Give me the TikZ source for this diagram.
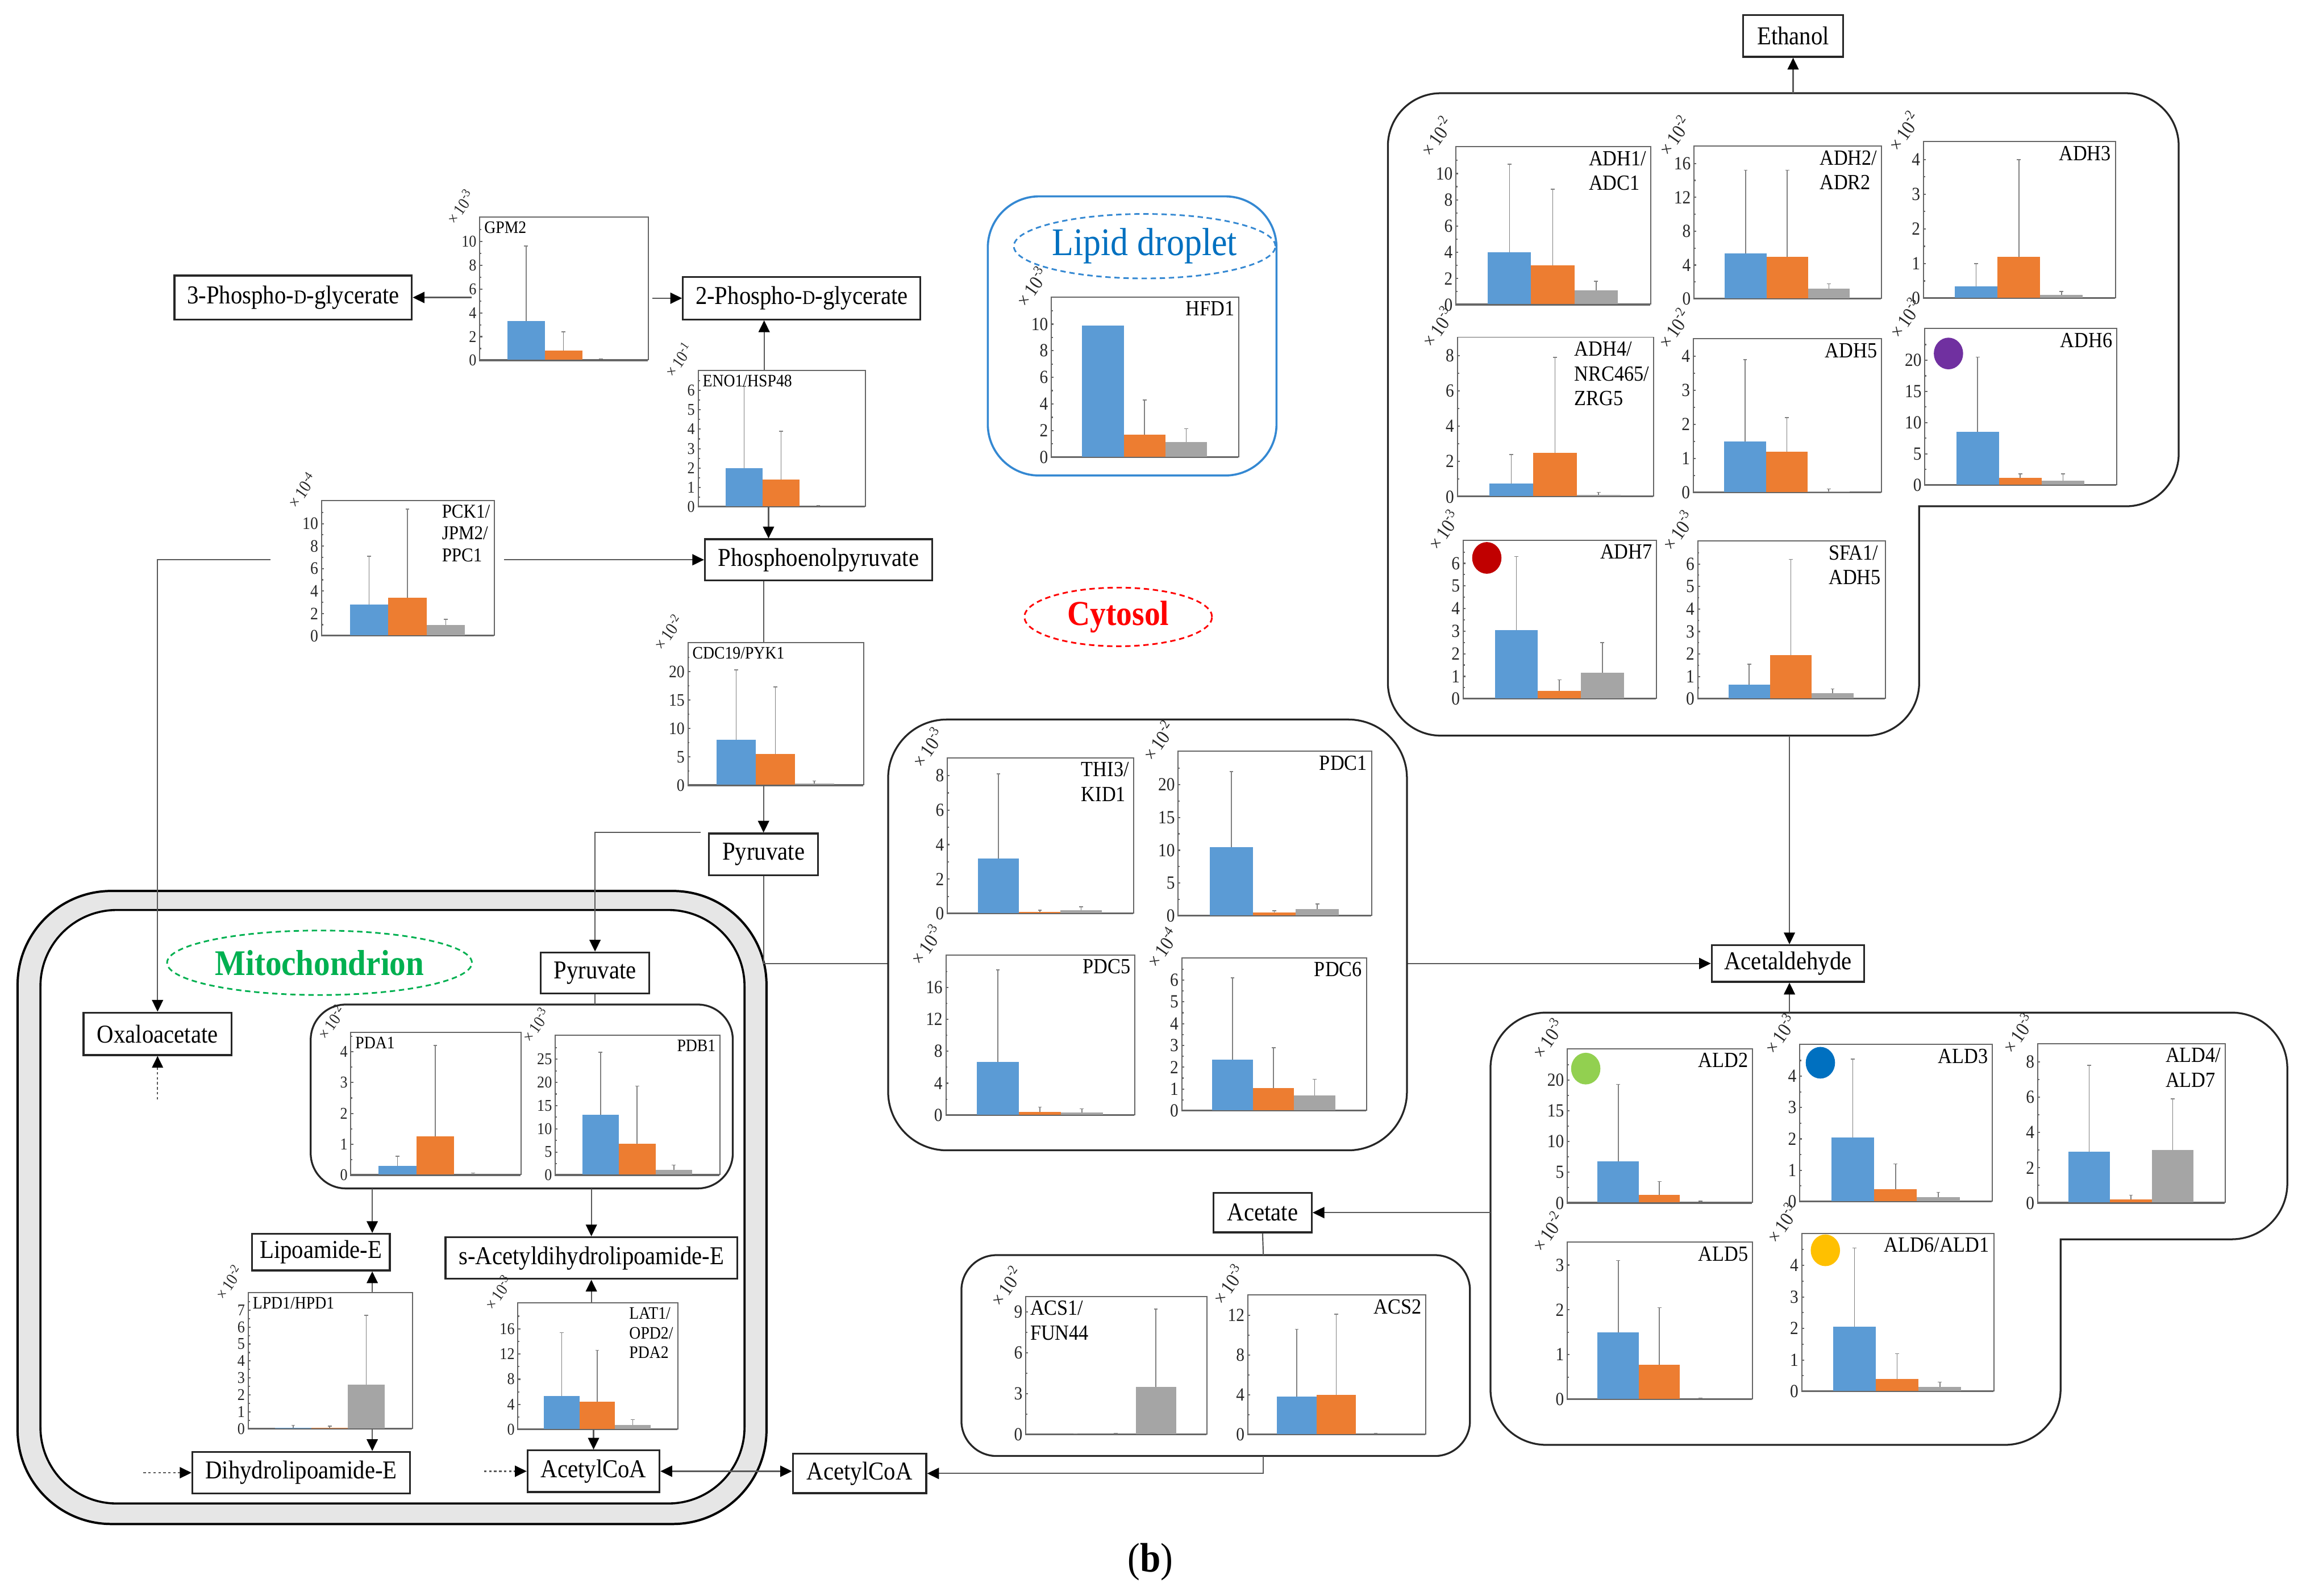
\documentclass[tikz,border=0pt]{standalone}
\usepackage{fontspec}
\setmainfont{Liberation Serif}[FakeStretch=0.9]
\usepackage{tikz}
\usetikzlibrary{arrows.meta,positioning,shapes.geometric}

\definecolor{barblue}{RGB}{91,155,213}
\definecolor{barorange}{RGB}{237,125,49}
\definecolor{bargray}{RGB}{165,165,165}
\definecolor{mitogreen}{RGB}{0,176,80}
\definecolor{mitoshell}{RGB}{230,230,230}
\definecolor{lipidline}{RGB}{52,136,210}
\definecolor{lipidtext}{RGB}{0,112,192}
\definecolor{cytored}{RGB}{255,0,0}
\definecolor{dotpurple}{RGB}{112,48,160}
\definecolor{dotred}{RGB}{192,0,0}
\definecolor{dotgreen}{RGB}{146,208,80}
\definecolor{dotblue}{RGB}{0,112,192}
\definecolor{dotyellow}{RGB}{255,192,0}

\tikzset{
  met/.style={draw=black!85, line width=0.9pt, fill=white, inner sep=0pt,
    font=\fontsize{12.5}{14}\selectfont},
  grp/.style={draw=black!85, line width=0.9pt},
  conn/.style={draw=black!65, line width=0.6pt},
  arr/.style={conn, -{Triangle[length=2mm,width=1.9mm,color=black]}},
  dblarr/.style={conn, {Triangle[length=2mm,width=1.9mm,color=black]}-{Triangle[length=2mm,width=1.9mm,color=black]}},
  dasharr/.style={arr, dash pattern=on 1.2pt off 1.2pt},
  plotbox/.style={draw=black!60, line width=0.55pt, fill=white, inner sep=0pt},
  axisln/.style={draw=black!60, line width=0.6pt},
  errbar/.style={draw=black!50, line width=0.45pt},
  ticklbl/.style={anchor=east, inner sep=0.4mm, text=black!85},
  genelbl/.style={align=left, inner sep=0.8mm},
  expo/.style={rotate=55, inner sep=0pt, text=black!85},
  tksm/.style={font=\fontsize{8}{8.5}\selectfont},
  tkmd/.style={font=\fontsize{8.5}{9}\selectfont},
  tklg/.style={font=\fontsize{9}{10}\selectfont},
  gnsm/.style={font=\fontsize{8.5}{9.5}\selectfont},
  gnmd/.style={font=\fontsize{9.5}{10.5}\selectfont},
  gnlg/.style={font=\fontsize{10.5}{12}\selectfont},
  exsm/.style={font=\fontsize{8}{9}\selectfont},
  exmd/.style={font=\fontsize{8.5}{9}\selectfont},
  exlg/.style={font=\fontsize{9.5}{10}\selectfont},
  tag/.style={ellipse, dash pattern=on 2.6pt off 1.8pt, line width=0.8pt, inner sep=0pt},
}

\newcommand{\smallcapD}{{\fontsize{9.5}{10}\selectfont D}}

% frame of one bar chart: name, left, bottom, width, height, axis top
\newcommand{\chart}[6]{%
  \node[plotbox, minimum width=#4*0.25mm, minimum height=#5*0.25mm,
    anchor=south west] (#1) at (#2,#3) {};
  \def\cname{#1}\def\cwd{#4}\def\cht{#5}\def\cmax{#6}}

% y axis: size class, exponent, tick step, last tick
\newcommand{\yaxis}[4][lg]{%
  \node[expo, ex#1] (\cname-x) at ([shift={(-13,-7)}]\cname.north west)
    {\texttimes\,10\textsuperscript{#2}};
  \foreach \tv in {0,#3,...,#4} {
    \node[ticklbl, tk#1] (\cname-t\tv) at ([yshift=\tv/\cmax*\cht*0.25mm]\cname.south west) {\tv};
    \draw[axisln] ([yshift=\tv/\cmax*\cht*0.25mm]\cname.south west) -- ++(2,0);
    \pgfmathsetmacro\mt{\tv+#3/2}
    \ifdim\mt pt<\cmax pt
      \draw[axisln] ([yshift=\mt/\cmax*\cht*0.25mm]\cname.south west) -- ++(1.5,0);
    \fi
  }}

% bars: blue, orange, grey means, then their error tops
\newcommand{\bars}[6]{%
  \begin{scope}[shift={(\cname.south west)}]
    \fill[barblue] ({\cwd/6},0) rectangle ++({\cwd*2/9},{-#1/\cmax*\cht});
    \fill[barorange] ({\cwd*7/18},0) rectangle ++({\cwd*2/9},{-#2/\cmax*\cht});
    \fill[bargray] ({\cwd*11/18},0) rectangle ++({\cwd*2/9},{-#3/\cmax*\cht});
    \foreach \mv/\ev/\cx in {#1/#4/5, #2/#5/9, #3/#6/13} {
      \ifdim\ev pt>\mv pt
        \draw[errbar] ({\cwd*\cx/18},{-\mv/\cmax*\cht}) -- ({\cwd*\cx/18},{-\ev/\cmax*\cht})
          ++(-1.3,0) -- ++(2.6,0);
      \fi
    }
    \draw[axisln] (0,0) -- (\cwd,0);
  \end{scope}}

% gene name in a corner of the chart
\newcommand{\gene}[3][lg]{%
  \node[genelbl, gn#1, anchor=#2] (\cname-g) at (\cname.#2) {#3};}

% coloured marker in the chart
\newcommand{\marker}[3]{%
  \fill[#1] ([shift={(#2,#3)}]\cname.north west) ellipse [x radius=2.5mm, y radius=2.7mm];}

\begin{document}
\begin{tikzpicture}[x=0.25mm, y=-0.25mm]
  \useasboundingbox (0,0) rectangle (1568,1088.76);

  % Mitochondrion shell
  \draw[line width=1.1pt, fill=mitoshell, rounded corners=16mm] (12,608) rectangle (523,1040);
  \draw[line width=1pt, fill=white, rounded corners=13mm] (27.6,621) rectangle (508,1026);

  % Metabolites
  \node[met, minimum width=40.5mm, minimum height=7.5mm] (pg3) at (200,203) {3-Phospho-\smallcapD-glycerate};
  \node[met, minimum width=40.5mm, minimum height=7.25mm] (pg2) at (547,203.5) {2-Phospho-\smallcapD-glycerate};
  \node[met, minimum width=38.75mm, minimum height=7mm] (pep) at (558.5,382) {Phosphoenolpyruvate};
  \node[met, minimum width=18.6mm, minimum height=7.1mm] (pyr) at (521,583) {Pyruvate};
  \node[met, minimum width=17mm, minimum height=7.1mm] (ethanol) at (1223.5,24.6) {Ethanol};
  \node[met, minimum width=26mm, minimum height=6.25mm] (acald) at (1220,657.5) {Acetaldehyde};
  \node[met, minimum width=16.75mm, minimum height=6.75mm] (acetate) at (861.5,827.5) {Acetate};
  \node[met, minimum width=22.75mm, minimum height=6.75mm] (accoa) at (586.5,1005.5) {AcetylCoA};
  \node[met, minimum width=18.5mm, minimum height=7mm] (pyrm) at (406,664) {Pyruvate};
  \node[met, minimum width=25.25mm, minimum height=7.25mm] (oaa) at (107.5,705.5) {Oxaloacetate};
  \node[met, minimum width=23.5mm, minimum height=6.25mm] (lipo) at (219,854.5) {Lipoamide-E};
  \node[met, minimum width=49.75mm, minimum height=7.1mm] (sacetyl) at (403.5,858.5) {s-Acetyldihydrolipoamide-E};
  \node[met, minimum width=37.1mm, minimum height=7.1mm] (dihydro) at (205.5,1005) {Dihydrolipoamide-E};
  \node[met, minimum width=22.5mm, minimum height=7.1mm] (accoam) at (405,1004) {AcetylCoA};

  % Compartment labels
  \node[tag, draw=cytored, text=cytored, minimum width=32mm, minimum height=10mm,
    font=\fontsize{17}{17}\selectfont\bfseries] (cytosol) at (763,421) {Cytosol};
  \node[tag, draw=mitogreen, text=mitogreen, minimum width=52mm, minimum height=11mm,
    font=\fontsize{17.5}{18}\selectfont\bfseries] (mito) at (218,657) {Mitochondrion};

  % Pyruvate to acetaldehyde, behind the PDC group
  \draw[arr] (pyr.south) |- (acald.west);

  % Enzyme groups
  \draw[lipidline, line width=1pt, fill=white, rounded corners=8.75mm] (674,134) rectangle (871,324.5);
  \node[tag, draw=lipidline, text=lipidtext, minimum width=40.5mm, minimum height=11mm,
    font=\fontsize{19}{19}\selectfont] (lipid) at (781,168) {Lipid droplet};
  \draw[grp, fill=white, rounded corners=10mm] (606,491) rectangle (960,785);
  \draw[grp, line cap=rect, rounded corners=9mm] (1309.5,345.5) -- (1486.6,345.5) -- (1486.6,63.6)
    -- (947,63.6) -- (947,502) -- (1309.5,502) -- (1309.5,345.5);
  \draw[grp, line cap=rect, rounded corners=9.5mm] (1406,845.7) -- (1560.7,845.7) -- (1560.7,691)
    -- (1017,691) -- (1017,986) -- (1406,986) -- (1406,845.7);
  \draw[grp, rounded corners=6mm] (656,856.5) rectangle (1003,993.6);
  \draw[grp, fill=white, rounded corners=6mm] (212,685.5) rectangle (500,811);
  \coordinate (adh-n) at (1223.5,63.6);
  \coordinate (adh-s) at (1221,502);
  \coordinate (ald-n) at (1221,691);
  \coordinate (ald-w) at (1017,827.5);
  \coordinate (acs-n) at (862,856.5);
  \coordinate (acs-s) at (862,993.6);
  \coordinate (pdh-n) at (406,685.5);
  \coordinate (pdh-sl) at (254,811);
  \coordinate (pdh-sr) at (403.5,811);

  % Glycolysis charts
  \chart{gpm}{327}{246}{115}{97.5}{12}
  \yaxis[sm]{-3}{2}{10}
  \bars{3.3}{0.85}{0.05}{9.6}{2.4}{0.15}
  \gene[sm]{north west}{GPM2}

  \chart{eno}{476}{346}{114}{93}{7}
  \yaxis[sm]{-1}{1}{6}
  \bars{2.0}{1.4}{0.02}{6.2}{3.9}{0.08}
  \gene[sm]{north west}{ENO1/HSP48}

  \chart{pck}{219}{434}{118}{92}{12}
  \yaxis[md]{-4}{2}{10}
  \bars{2.8}{3.4}{1.0}{7.1}{11.3}{1.5}
  \gene[md]{north east}{PCK1/\\JPM2/\\PPC1}

  \chart{cdc}{469}{536}{120}{97}{25}
  \yaxis[md]{-2}{5}{20}
  \bars{8}{5.5}{0.3}{20.3}{17.3}{0.8}
  \gene[sm]{north west}{CDC19/PYK1}

  \chart{hfd}{717}{312}{128}{109}{12}
  \yaxis{-3}{2}{10}
  \bars{9.9}{1.7}{1.15}{9.9}{4.3}{2.15}
  \gene{north east}{HFD1}

  % PDC group
  \chart{thi}{646}{623.5}{127}{106}{9}
  \yaxis{-3}{2}{8}
  \bars{3.2}{0.1}{0.2}{8.1}{0.2}{0.4}
  \gene{north east}{THI3/\\KID1}

  \chart{pdc1}{803.5}{625}{132}{112}{25}
  \yaxis{-2}{5}{20}
  \bars{10.5}{0.5}{1.0}{22}{0.8}{1.8}
  \gene{north east}{PDC1}

  \chart{pdc5}{645}{761}{129}{109}{20}
  \yaxis{-3}{4}{16}
  \bars{6.7}{0.4}{0.3}{18.2}{1.0}{0.8}
  \gene{north east}{PDC5}

  \chart{pdc6}{806}{758}{126}{104}{7}
  \yaxis{-4}{1}{6}
  \bars{2.35}{1.05}{0.7}{6.1}{2.9}{1.45}
  \gene{north east}{PDC6}

  % ADH group
  \chart{adh1}{993}{208}{133}{107.5}{12}
  \yaxis{-2}{2}{10}
  \bars{4.0}{3.0}{1.1}{10.7}{8.8}{1.8}
  \gene{north east}{ADH1/\\ADC1}

  \chart{adh2}{1155.5}{204}{128}{104}{18}
  \yaxis{-2}{4}{16}
  \bars{5.4}{5.0}{1.2}{15.2}{15.2}{1.8}
  \gene{north east}{ADH2/\\ADR2}

  \chart{adh3}{1312}{203.6}{131}{106.6}{4.5}
  \yaxis{-2}{1}{4}
  \bars{0.35}{1.2}{0.1}{1.0}{4.0}{0.2}
  \gene{north east}{ADH3}

  \chart{adh4}{994}{339}{134}{108.5}{9}
  \yaxis{-3}{2}{8}
  \bars{0.75}{2.5}{0.1}{2.4}{7.9}{0.25}
  \gene{north east}{ADH4/\\NRC465/\\ZRG5}

  \chart{adh5}{1155}{336}{128.5}{104.5}{4.5}
  \yaxis{-2}{1}{4}
  \bars{1.5}{1.2}{0.02}{3.9}{2.2}{0.1}
  \gene{north east}{ADH5}

  \chart{adh6}{1313}{331}{131}{106.5}{25}
  \yaxis{-3}{5}{20}
  \bars{8.5}{1.2}{0.7}{20.5}{1.8}{1.8}
  \gene{north east}{ADH6}
  \marker{dotpurple}{16.5}{17.5}

  \chart{adh7}{998}{477}{132}{108}{7}
  \yaxis{-3}{1}{6}
  \bars{3.05}{0.35}{1.15}{6.3}{0.85}{2.5}
  \gene{north east}{ADH7}
  \marker{dotred}{16.5}{12.5}

  \chart{sfa}{1158}{477}{128}{107.5}{7}
  \yaxis{-3}{1}{6}
  \bars{0.65}{1.95}{0.25}{1.55}{6.2}{0.45}
  \gene{north east}{SFA1/\\ADH5}

  % ALD group
  \chart{ald2}{1069}{821}{126.5}{105}{25}
  \yaxis{-3}{5}{20}
  \bars{6.8}{1.35}{0.05}{19.3}{3.5}{0.3}
  \gene{north east}{ALD2}
  \marker{dotgreen}{13}{14}

  \chart{ald3}{1227.6}{820}{131.5}{107}{5}
  \yaxis{-3}{1}{4}
  \bars{2.05}{0.4}{0.15}{4.55}{1.2}{0.3}
  \gene{north east}{ALD3}
  \marker{dotblue}{14.5}{13}

  \chart{ald4}{1390}{821}{128}{108.5}{9}
  \yaxis{-3}{2}{8}
  \bars{2.9}{0.2}{3.0}{7.8}{0.45}{5.9}
  \gene{north east}{ALD4/\\ALD7}

  \chart{ald5}{1069}{955}{126.5}{107}{3.5}
  \yaxis{-2}{1}{3}
  \bars{1.5}{0.78}{0.01}{3.1}{2.05}{0.03}
  \gene{north east}{ALD5}

  \chart{ald6}{1229}{949.6}{131}{107.6}{5}
  \yaxis{-3}{1}{4}
  \bars{2.05}{0.4}{0.15}{4.55}{1.2}{0.3}
  \gene{north east}{ALD6/ALD1}
  \marker{dotyellow}{16.5}{12}

  % ACS group
  \chart{acs1}{699.5}{979}{123.5}{94}{10.1}
  \yaxis{-2}{3}{9}
  \bars{0.02}{0.03}{3.5}{0.05}{0.08}{9.2}
  \gene{north west}{ACS1/\\FUN44}

  \chart{acs2}{851}{979}{121.5}{95}{14}
  \yaxis{-3}{4}{12}
  \bars{3.8}{4.0}{0.02}{10.6}{12.1}{0.1}
  \gene{north east}{ACS2}

  % Mitochondrial charts
  \chart{pda}{239}{802}{116}{97}{4.6}
  \yaxis[sm]{-2}{1}{4}
  \bars{0.3}{1.25}{0.02}{0.62}{4.2}{0.07}
  \gene[sm]{north west}{PDA1}

  \chart{pdb}{378.5}{802}{112.5}{95}{30}
  \yaxis[sm]{-3}{5}{25}
  \bars{13}{6.8}{1.1}{26.5}{19.2}{2.2}
  \gene[sm]{north east}{PDB1}

  \chart{lpd}{169}{975}{112}{92.5}{8}
  \yaxis[sm]{-2}{1}{7}
  \bars{0.07}{0.07}{2.6}{0.2}{0.15}{6.7}
  \gene[sm]{north west}{LPD1/HPD1}

  \chart{lat}{353}{975.6}{109}{86}{20}
  \yaxis[sm]{-3}{4}{16}
  \bars{5.3}{4.4}{0.7}{15.4}{12.6}{1.6}
  \gene[sm]{north east}{LAT1/\\OPD2/\\PDA2}

  % Connectors
  \draw[arr] ([xshift=-1.25mm]gpm.west |- pg3) -- (pg3);
  \draw[arr] ([xshift=0.6mm]gpm.east |- pg2) -- (pg2);
  \draw[arr] ([xshift=-3mm]eno.north) -- ([xshift=-3mm]eno.north |- pg2.south);
  \draw[arr] ([xshift=-2.25mm]eno.south) -- ([xshift=-2.25mm]eno.south |- pep.north);
  \draw[arr] ([xshift=1.5mm]pck.east |- pep) -- (pep);
  \draw[arr] ([xshift=-8.6mm]pck.west |- pep) -| (oaa.north);
  \draw[conn] (pep.south -| pyr) -- (cdc.north -| pyr);
  \draw[arr] (cdc.south -| pyr) -- (pyr.north);
  \draw[arr] ([xshift=-1.25mm]pyr.north west) -| (pyrm.north);
  \draw[arr] (adh-n) -- (ethanol.south);
  \draw[arr] (adh-s) -- (adh-s |- acald.north);
  \draw[arr] (ald-n) -- (ald-n |- acald.south);
  \draw[arr] (ald-w) -- (acetate.east);
  \draw[conn] (acetate.south) -- (acs-n);
  \draw[arr] (acs-s) |- (accoa.east);
  \draw[dblarr] (accoam.east) -- (accoam.east -| accoa.west);
  \draw[conn] (pyrm.south) -- (pdh-n);
  \draw[arr] (pdh-sl) -- (pdh-sl |- lipo.north);
  \draw[arr] (pdh-sr) -- (sacetyl.north);
  \draw[arr] (lpd.north -| pdh-sl) -- (pdh-sl |- lipo.south);
  \draw[arr] (lpd.south -| pdh-sl) -- (pdh-sl |- dihydro.north);
  \draw[arr] (lat.north -| sacetyl) -- (sacetyl.south);
  \draw[arr] (lat.south -| accoam) -- (accoam.north);
  \draw[dasharr] ([xshift=-8.2mm]dihydro.west) -- (dihydro.west);
  \draw[dasharr] ([xshift=-7.25mm]accoam.west) -- (accoam.west);
  \draw[dasharr] ([yshift=-7.4mm]oaa.south) -- (oaa.south);

  % Panel label
  \node[font=\fontsize{20}{20}\selectfont] (panel) at (785,1066) {(\textbf{b})};
\end{tikzpicture}
\end{document}
